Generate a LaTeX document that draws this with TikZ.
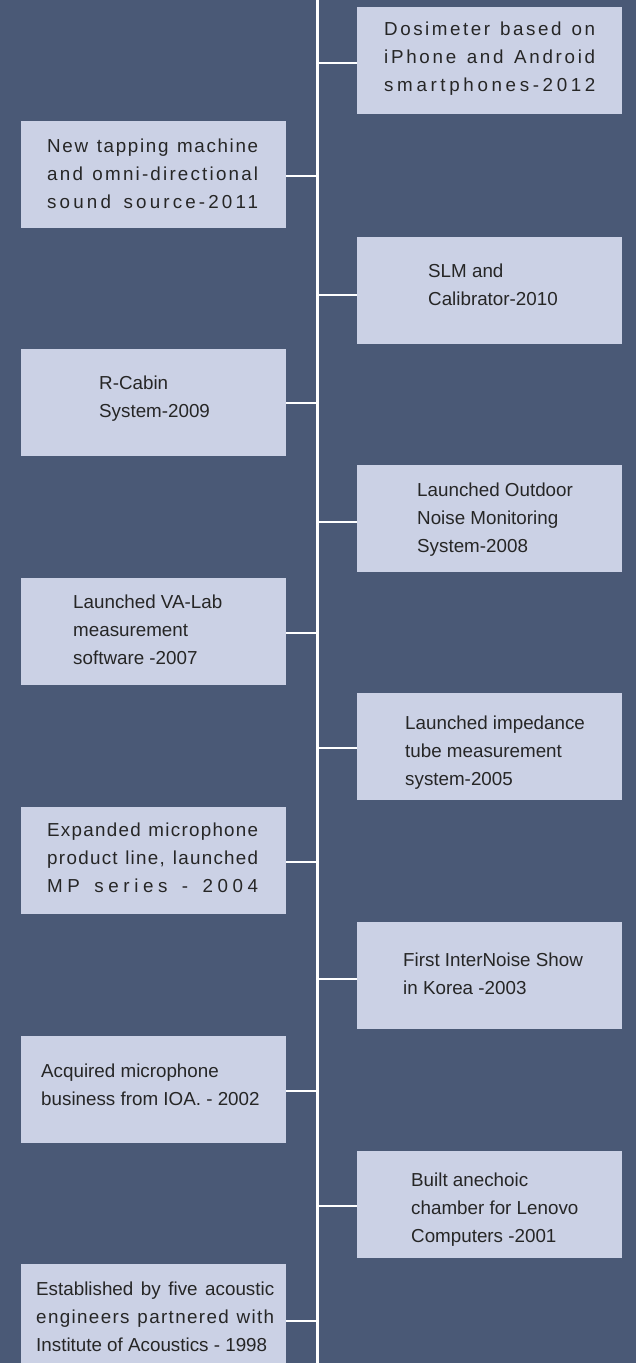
\documentclass[tikz,border=0pt]{standalone}
\usepackage{fontspec}
\setmainfont{Liberation Sans}
\usepackage{xcolor}
\usepackage{tikz}
\usetikzlibrary{positioning}
\usetikzlibrary{calc}
\definecolor{bgslate}{RGB}{74,89,118}
\definecolor{boxfill}{RGB}{203,209,229}
\definecolor{inkgray}{RGB}{38,38,38}
\tikzstyle{evbox}=[rectangle,fill=boxfill,draw=none,minimum width=265bp,minimum height=107bp,inner sep=0pt,anchor=north west]
\tikzstyle{evtext}=[inner sep=0pt,anchor=north west,align=left,text=inkgray,font=\fontsize{18.8bp}{28bp}\selectfont]
\tikzstyle{link}=[draw=white,line width=2.6bp]
\tikzstyle{spine}=[draw=white,line width=3bp]
\newcommand{\spreadln}[3]{\makebox[#1][s]{\addfontfeature{LetterSpace=#2}#3}}

\begin{document}
\begin{tikzpicture}[x=1bp,y=-1bp]

  \def\up{19.6};
  \def\xl{21};
  \def\xr{357};
  \def\xs{317.5};

  \fill[bgslate] (0,0) rectangle (636,1363);
  \useasboundingbox (0,0) rectangle (636,1363);

  \coordinate (spinetop) at (\xs,0);
  \coordinate (spinebot) at (\xs,1363);
  \path[spine] (spinetop) -- (spinebot);

%boxes
   \foreach \y/\name in {7/b12, 237/b10, 465/b08, 693/b05, 922/b03, 1151/b01}
          \node[evbox] (\name) at (\xr,\y) {};

   \foreach \y/\name in {121/b11, 349/b09, 578/b07, 807/b04, 1036/b02, 1264/b98}
          \node[evbox] (\name) at (\xl,\y) {};

%joints on the spine
   \foreach \y/\name in {63/j12, 176/j11, 295/j10, 403/j09, 522/j08, 633/j07, 748/j05, 862/j04, 979/j03, 1091/j02, 1206/j01, 1321/j98}
          \coordinate (\name) at (\xs,\y);

  \foreach \source/ \dest in {b12/j12, b10/j10, b08/j08, b05/j05, b03/j03, b01/j01}
         \path[link] (\source.west |- \dest) -- (\dest);

  \foreach \source/ \dest in {b11/j11, b09/j09, b07/j07, b04/j04, b02/j02, b98/j98}
         \path[link] (\source.east |- \dest) -- (\dest);

%texts
   \foreach \x/\y/\name/\label in {
       384/35/t12/{\spreadln{211bp}{13.4}{Dosimeter based on}\\\spreadln{211bp}{14.4}{iPhone and Android}\\\spreadln{211bp}{19.3}{smartphones-2012}},
       428/277/t10/{SLM and\\Calibrator-2010},
       417/496/t08/{Launched Outdoor\\Noise Monitoring\\System-2008},
       405/729/t05/{Launched impedance\\tube measurement\\system-2005},
       403/966/t03/{First InterNoise Show\\in Korea -2003},
       411/1186/t01/{Built anechoic\\chamber for Lenovo\\Computers -2001}}
          \node[evtext] (\name) at (\x,\y-\up) {\strut\label};

   \foreach \x/\y/\name/\label in {
       47/152/t11/{\spreadln{211bp}{8.9}{New tapping machine}\\\spreadln{211bp}{11.7}{and omni-directional}\\\spreadln{211bp}{16.7}{sound source-2011}},
       99/389/t09/{R-Cabin\\System-2009},
       73/608/t07/{Launched VA-Lab\\measurement\\software -2007},
       47/836/t04/{\spreadln{211bp}{6.8}{Expanded microphone}\\\spreadln{211bp}{6.9}{product line, launched}\\\spreadln{211bp}{24.4}{MP series - 2004}},
       41/1077/t02/{Acquired microphone\\business from IOA. - 2002},
       36/1295/t98/{\makebox[238bp][s]{Established by five acoustic}\\\spreadln{238bp}{7.2}{engineers partnered with}\\Institute of Acoustics - 1998}}
          \node[evtext] (\name) at (\x,\y-\up) {\strut\label};

\end{tikzpicture}
\end{document}
